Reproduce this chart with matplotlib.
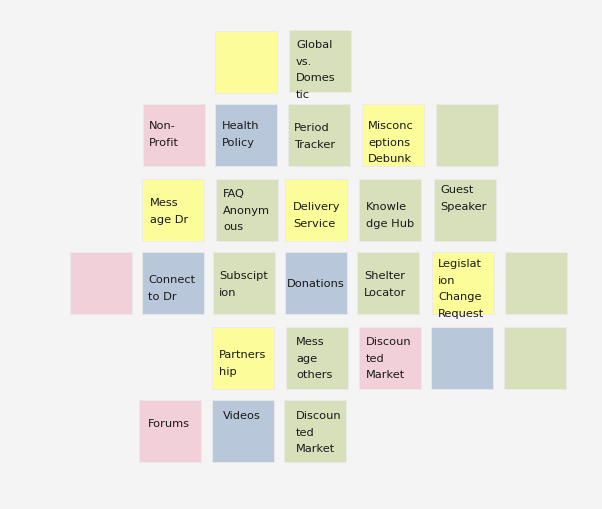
import matplotlib

matplotlib.use("Agg")
import matplotlib.pyplot as plt
from matplotlib.patches import Rectangle

# sticky notes: label, colour key, left, top (board pixels)
LABELS = [
    "", "Global\nvs.\nDomes\ntic",
    "Non-\nProfit", "Health\nPolicy", "Period\nTracker", "Misconc\neptions\nDebunk", "",
    "Mess\nage Dr", "FAQ\nAnonym\nous", "Delivery\nService", "Knowle\ndge Hub", "Guest\nSpeaker",
    "", "Connect\nto Dr", "Subscipt\nion", "Donations", "Shelter\nLocator",
    "Legislat\nion\nChange\nRequest", "",
    "Partners\nhip", "Mess\nage\nothers", "Discoun\nted\nMarket", "", "",
    "Forums", "Videos", "Discoun\nted\nMarket",
]
KINDS = [
    "yellow", "green",
    "pink", "blue", "green", "yellow", "green",
    "yellow", "green", "yellow", "green", "green",
    "pink", "blue", "green", "blue", "green", "yellow", "green",
    "yellow", "green", "pink", "blue", "green",
    "pink", "blue", "green",
]
LEFT = [
    215, 289,
    143, 215, 288, 362, 436,
    142, 216, 285, 359, 434,
    70, 142, 213, 285, 357, 432, 505,
    212, 286, 359, 431, 504,
    139, 212, 284,
]
TOP = [
    32, 31,
    105, 105, 105, 105, 105,
    180, 180, 180, 180, 180,
    253, 253, 253, 253, 253, 253, 253,
    328, 328, 328, 328, 328,
    401, 401, 401,
]
# first text line offset from note top
TEXT_DY = [
    0, 14,
    21, 21, 23, 21, 0,
    23, 14, 27, 27, 10,
    0, 27, 23, 31, 23, 11, 0,
    27, 14, 14, 0, 0,
    23, 15, 15,
]
TEXT_DX = [
    0, 7,
    6, 7, 6, 6, 0,
    8, 7, 8, 7, 6,
    0, 6, 6, 2, 7, 6, 0,
    7, 10, 7, 0, 0,
    9, 11, 12,
]

COLORS = {
    "pink": "#F2D0DA",
    "blue": "#B8C7DA",
    "green": "#D7DFBB",
    "yellow": "#FCFC98",
}
NOTE = 62
LINE = 16.7

fig = plt.figure(figsize=(6.02, 5.10), dpi=100)
fig.patch.set_facecolor("#F4F4F4")
ax = fig.add_axes([0, 0, 1, 1])
ax.set_xlim(0, 602)
ax.set_ylim(510, 0)
ax.axis("off")

for label, kind, x, y, dy, dx in zip(LABELS, KINDS, LEFT, TOP, TEXT_DY, TEXT_DX):
    ax.add_patch(
        Rectangle(
            (x, y), NOTE, NOTE,
            facecolor=COLORS[kind],
            edgecolor="#EAEAEA",
            linewidth=0.6,
        )
    )
    for i, line in enumerate(label.split("\n") if label else []):
        ax.text(
            x + dx, y + dy + i * LINE, line,
            ha="left", va="center",
            fontsize=8.2, family="DejaVu Sans", color="#1A1A1A",
        )

fig.savefig("out.png", dpi=100, facecolor=fig.get_facecolor())
